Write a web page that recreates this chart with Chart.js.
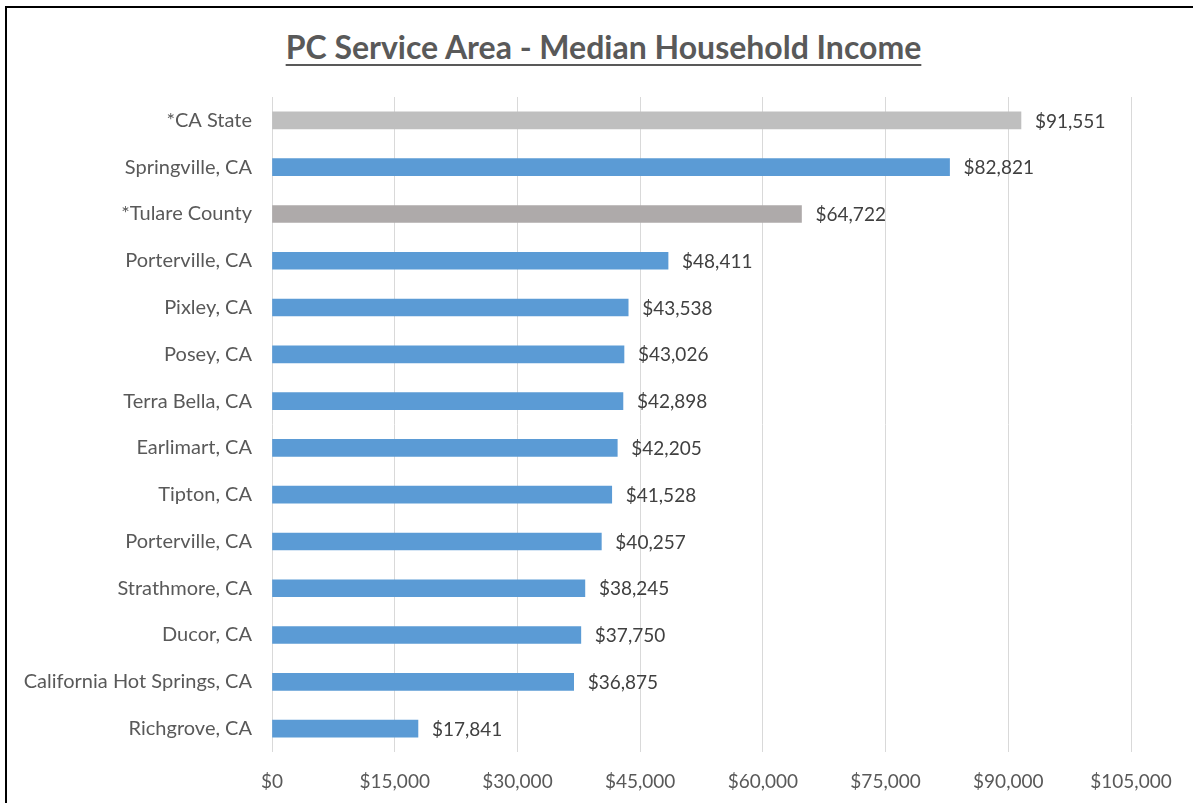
<!DOCTYPE html>
<html>
<head>
<meta charset="utf-8">
<script src="https://cdn.jsdelivr.net/npm/chart.js@4.4.1/dist/chart.umd.min.js"></script>
<style>
  html, body { margin: 0; padding: 0; background: #fff; }
  #wrap { position: relative; width: 1193px; height: 803px; overflow: hidden; }
  #frame { position: absolute; left: 5px; top: 6px; width: 1300px; height: 900px; border: 2px solid #000; box-sizing: border-box; }
  #title { position: absolute; left: 0; width: 1207px; top: 27px; text-align: center; font-family: Lato, sans-serif; font-size: 32px; font-weight: 700; color: #595959; text-decoration: underline; text-underline-offset: 5px; text-decoration-thickness: 1.5px; }
  canvas { position: absolute; left: 0; top: 0; }
</style>
</head>
<body>
<div id="wrap">
  <div id="frame"></div>
  <div id="title">PC Service Area - Median Household Income</div>
  <canvas id="c" width="1193" height="803"></canvas>
</div>
<script>
const categories = ["*CA State", "Springville, CA", "*Tulare County", "Porterville, CA", "Pixley, CA", "Posey, CA", "Terra Bella, CA", "Earlimart, CA", "Tipton, CA", "Porterville, CA", "Strathmore, CA", "Ducor, CA", "California Hot Springs, CA", "Richgrove, CA"];
const incomes = [91551, 82821, 64722, 48411, 43538, 43026, 42898, 42205, 41528, 40257, 38245, 37750, 36875, 17841];
const barColors = ["#BFBFBF", "#5B9BD5", "#AEAAAA", "#5B9BD5", "#5B9BD5", "#5B9BD5", "#5B9BD5", "#5B9BD5", "#5B9BD5", "#5B9BD5", "#5B9BD5", "#5B9BD5", "#5B9BD5", "#5B9BD5"];
const xMin = 0, xMax = 105000, xStep = 15000;

const fmt = v => "$" + Number(v).toLocaleString("en-US");
const FONT = "Lato, sans-serif";

const labelPlugin = {
  id: "barLabels",
  afterDatasetsDraw(chart) {
    const ctx = chart.ctx;
    const meta = chart.getDatasetMeta(0);
    ctx.save();
    ctx.font = "19px " + FONT;
    ctx.fillStyle = "#404040";
    ctx.textAlign = "left";
    ctx.textBaseline = "middle";
    meta.data.forEach((el, i) => {
      ctx.fillText(fmt(incomes[i]), el.x + 14, el.y + 1);
    });
    ctx.restore();
  }
};

new Chart(document.getElementById("c"), {
  type: "bar",
  data: {
    labels: categories,
    datasets: [{
      data: incomes,
      backgroundColor: barColors,
      borderWidth: 0,
      barThickness: 17
    }]
  },
  options: {
    indexAxis: "y",
    responsive: false,
    animation: false,
    layout: { padding: { top: 97, right: 62, left: 0, bottom: 0 } },
    plugins: { legend: { display: false }, tooltip: { enabled: false }, title: { display: false } },
    scales: {
      x: {
        min: xMin, max: xMax,
        afterFit: s => { s.height = 51; },
        ticks: { stepSize: xStep, callback: v => fmt(v), color: "#595959", font: { family: FONT, size: 19 }, padding: 18, maxRotation: 0 },
        grid: { color: "#D9D9D9", lineWidth: 1, drawTicks: false },
        border: { display: false }
      },
      y: {
        afterFit: s => { s.width = 272; },
        ticks: { color: "#595959", font: { family: FONT, size: 20 }, padding: 20 },
        grid: { display: false, drawTicks: false },
        border: { display: false }
      }
    }
  },
  plugins: [labelPlugin]
});
</script>
</body>
</html>
